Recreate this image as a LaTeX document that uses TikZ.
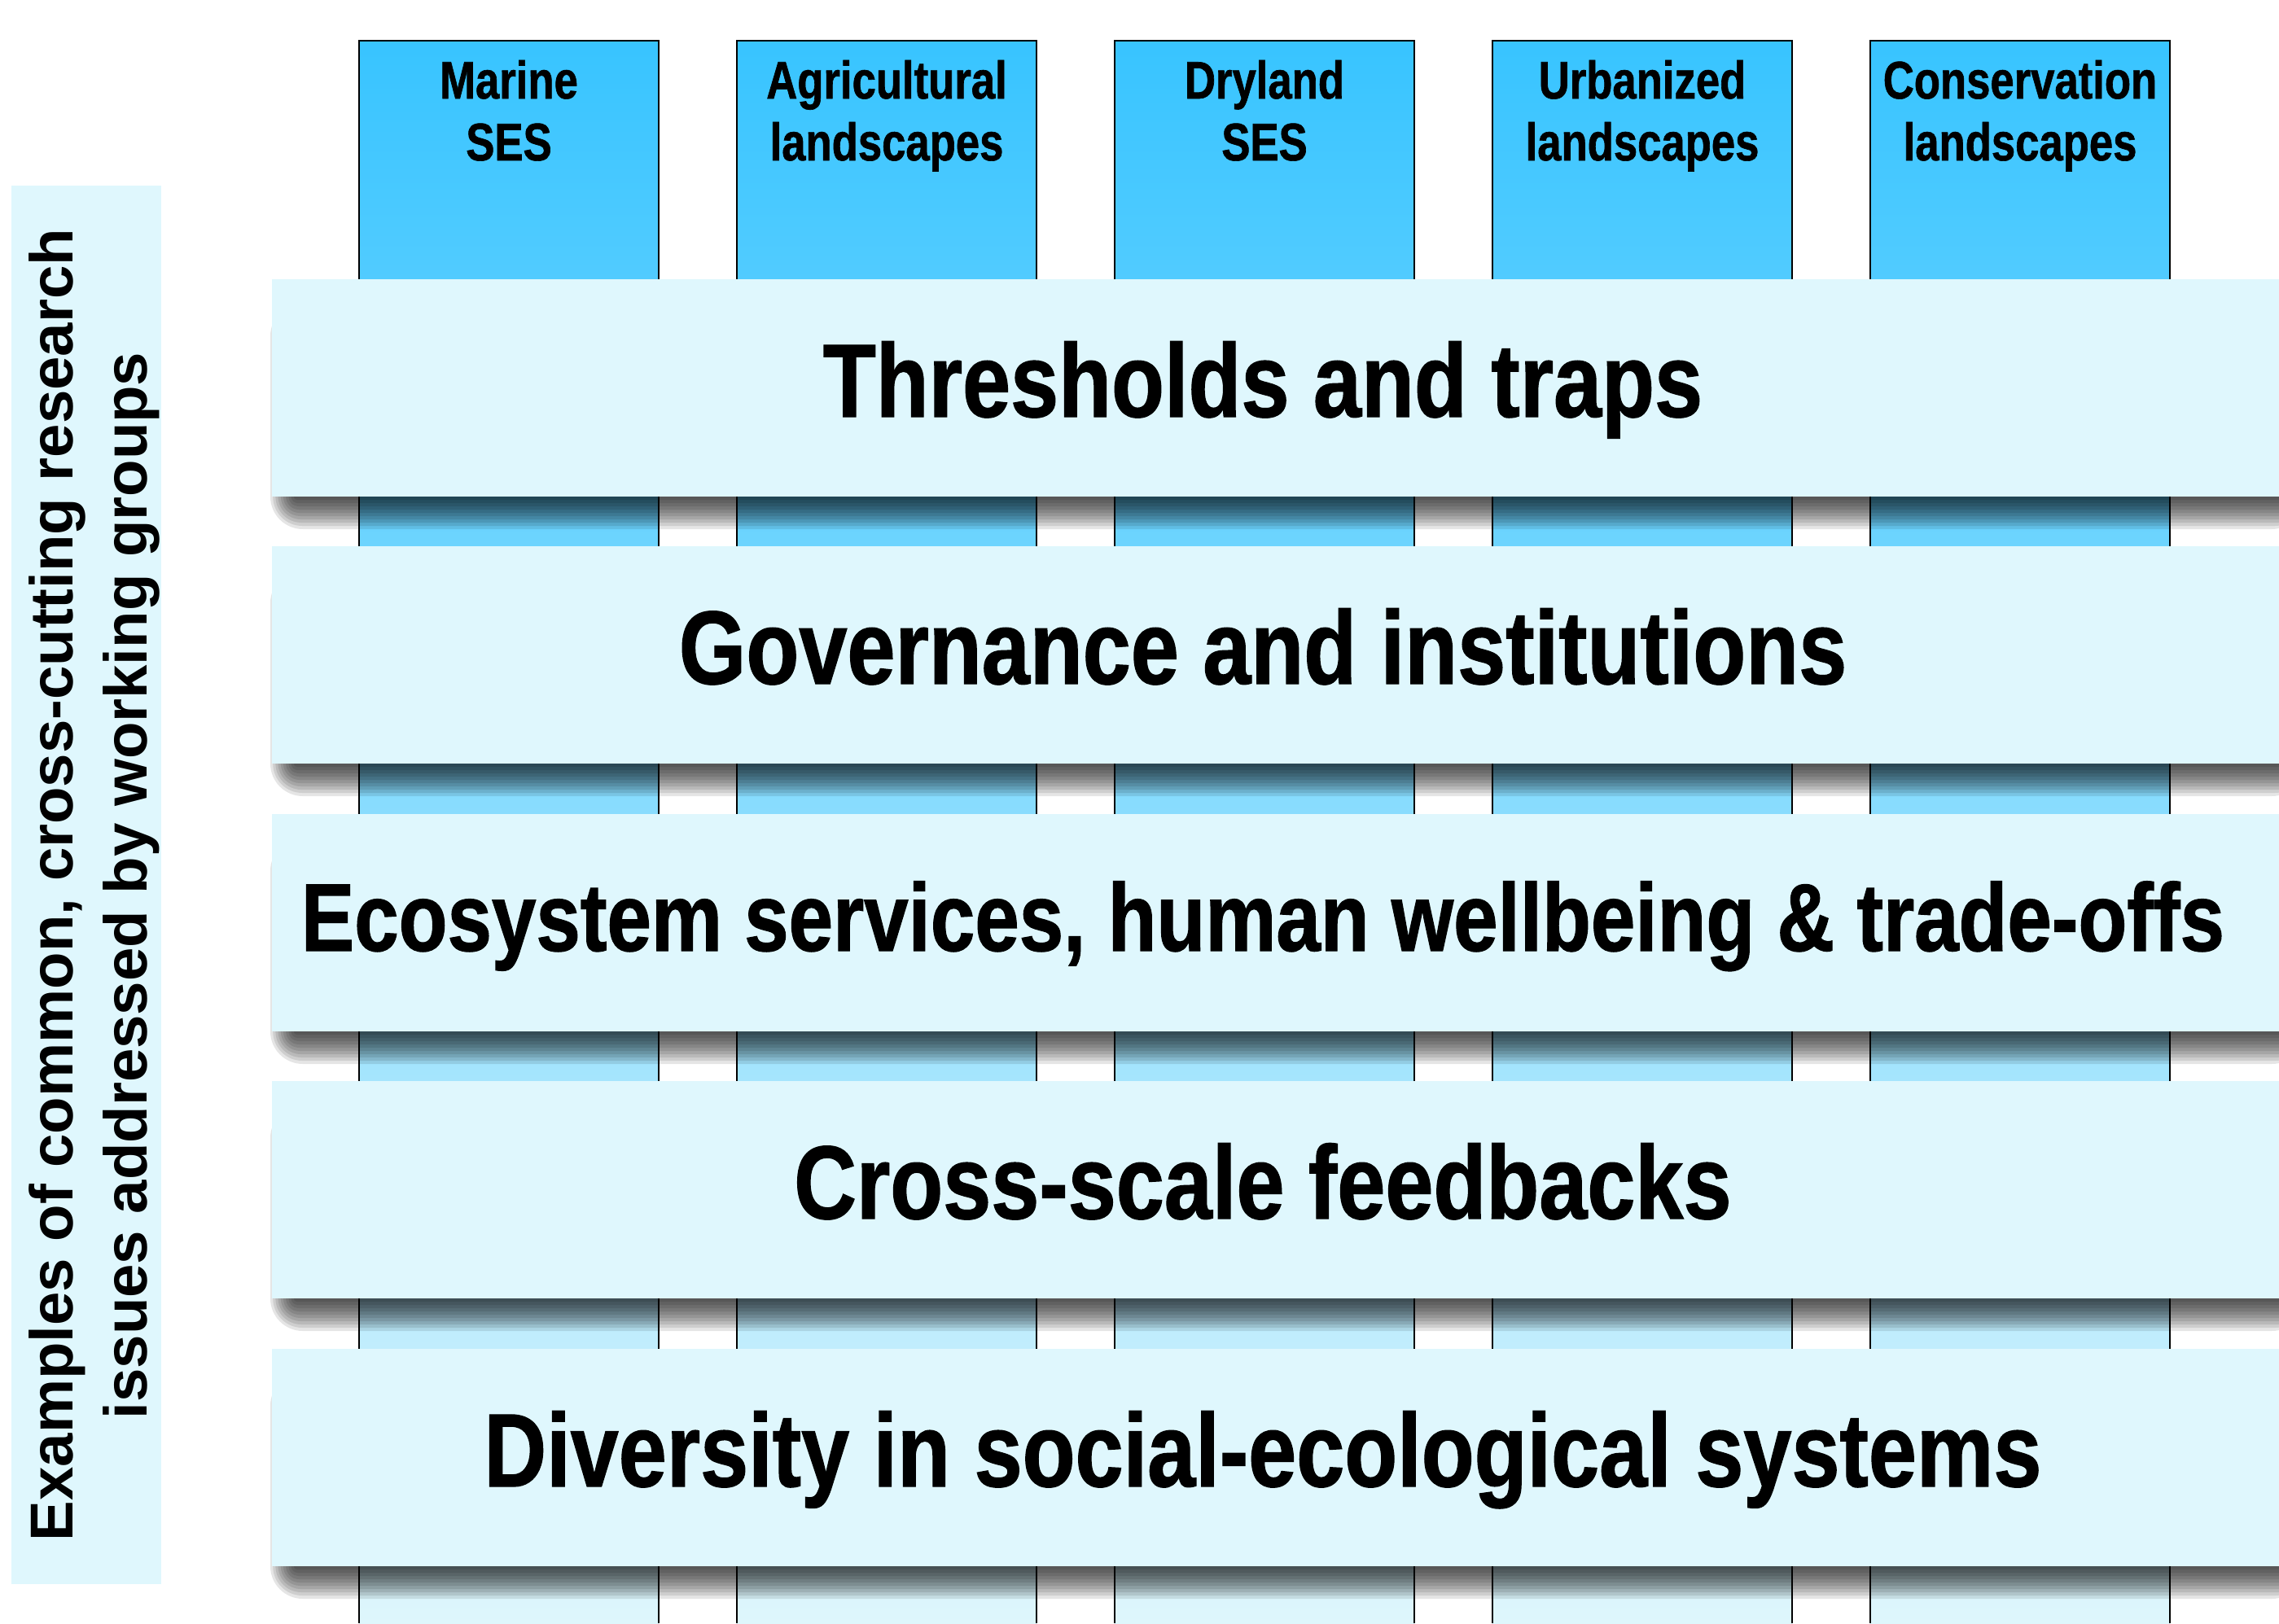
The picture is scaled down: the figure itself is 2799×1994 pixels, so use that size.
\documentclass[tikz,border=0pt]{standalone}
\usepackage{fontspec}
\setmainfont{Liberation Sans}
\newfontfamily\condfont{Liberation Sans}[FakeStretch=0.83,FakeBold=1]
\newfontfamily\colfont{Liberation Sans}[FakeStretch=0.81,FakeBold=1]
\definecolor{bandfill}{RGB}{223,247,253}
\definecolor{coltop}{RGB}{56,196,255}
\definecolor{colbot}{RGB}{222,246,252}
\begin{document}
\begin{tikzpicture}[x=1pt,y=-1pt,
  bandtext/.style={anchor=base, inner sep=0pt, font=\condfont\bfseries\fontsize{128}{150}\selectfont},
  coltext/.style={anchor=base, inner sep=0pt, font=\colfont\bfseries\fontsize{65}{76}\selectfont},
  sidetext/.style={anchor=base, inner sep=0pt, rotate=90, font=\bfseries\fontsize{74.4}{90}\selectfont},
  bandbox/.style={fill=bandfill, draw=none, inner sep=0pt, anchor=north west, minimum height=267pt, minimum width=2465pt},
  colline/.style={line width=2.5pt, draw=black},
  shadowlayer/.style={fill=black, opacity=0.1}]
\useasboundingbox (0,0) rectangle (2799,1994);

% columns (study systems)
\foreach \i/\a/\b in {1/Marine/SES, 2/Agricultural/landscapes, 3/Dryland/SES, 4/Urbanized/landscapes, 5/Conservation/landscapes}{
  \pgfmathsetmacro\xl{441+464*(\i-1)}
  \pgfmathsetmacro\xr{\xl+368}
  \pgfmathsetmacro\xc{\xl+184}
  \shade[top color=coltop, bottom color=colbot] (\xl,50) rectangle (\xr,1994);
  \draw[colline] (\xl,1994) -- (\xl,50) -- (\xr,50) -- (\xr,1994);
  \node[coltext] (ca\i) at (\xc,121) {\a};
  \node[coltext] (cb\i) at (\xc,197) {\b};
}

% bands with soft shadows
\foreach \t/\n in {343/1,671/2,1000/3,1328/4,1657/5}{
  \foreach \k in {1,...,10}{
    \fill[shadowlayer, rounded corners={4*\k}] ({364-3.2*\k},{\t+30}) rectangle (2830,{\t+267+4*\k});
  }
  \node[bandbox] (band\n) at (334,\t) {};
}

\node[bandtext] (t1) at (1551,512) {Thresholds and traps};
\node[bandtext] (t2) at (1551,840) {Governance and institutions};
\node[bandtext, font=\condfont\bfseries\fontsize{118}{140}\selectfont] (t3) at (1551,1168) {Ecosystem services, human wellbeing \& trade-offs};
\node[bandtext] (t4) at (1551,1497) {Cross-scale feedbacks};
\node[bandtext] (t5) at (1551,1826) {Diversity in social-ecological systems};

% side label
\node[fill=bandfill, anchor=north west, minimum width=184pt, minimum height=1718pt, inner sep=0pt] (side) at (14,228) {};
\node[sidetext] (s1) at (89,1087) {Examples of common, cross-cutting research};
\node[sidetext] (s2) at (180,1088) {issues addressed by working groups};
\end{tikzpicture}
\end{document}
